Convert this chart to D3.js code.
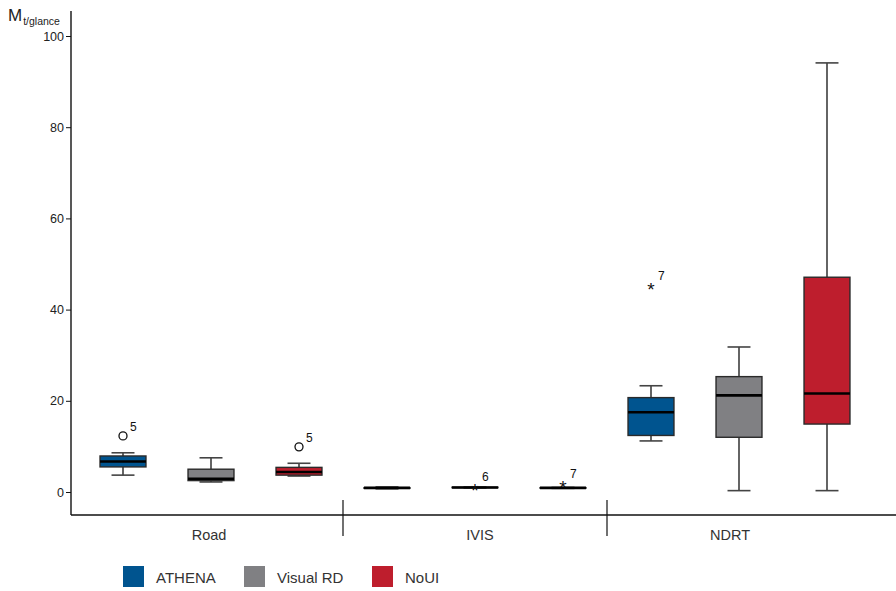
<!DOCTYPE html>
<html>
<head>
<meta charset="utf-8">
<script src="https://cdn.jsdelivr.net/npm/d3@7"></script>
<style>
  body { margin: 0; background: #fff; }
  svg { display: block; }
  text { font-family: "Liberation Sans", Arial, sans-serif; }
</style>
</head>
<body>
<svg id="chart" width="896" height="591"></svg>
<script>
// Tasks on the x axis, conditions within each task
const tasks = ["Road", "IVIS", "NDRT"];
const conditions = ["ATHENA", "Visual RD", "NoUI"];
const conditionColors = ["#00548f", "#808083", "#be1e2d"];

// Box statistics per task, ordered ATHENA, Visual RD, NoUI: [min, q1, median, q3, max]
const roadStats = [
  [3.7, 5.5, 6.7, 7.9, 8.6],
  [2.2, 2.5, 2.9, 5.0, 7.5],
  [3.5, 3.7, 4.4, 5.4, 6.3]
];
const ivisStats = [
  [0.7, 0.8, 0.9, 0.95, 1.1],
  [0.9, 0.95, 1.0, 1.05, 1.1],
  [0.8, 0.85, 0.9, 0.95, 1.0]
];
const ndrtStats = [
  [11.2, 12.4, 17.5, 20.7, 23.3],
  [0.3, 12.0, 21.2, 25.3, 31.8],
  [0.3, 14.9, 21.6, 47.1, 94.1]
];

// Outliers: [task, condition, value, case label, symbol]
const outliers = [
  ["Road", "ATHENA", 12.3, "5", "circle"],
  ["Road", "NoUI", 9.9, "5", "circle"],
  ["IVIS", "Visual RD", 1.4, "6", "star"],
  ["IVIS", "NoUI", 2.0, "7", "star"],
  ["NDRT", "ATHENA", 45.4, "7", "star"]
];

const yTicks = [0, 20, 40, 60, 80, 100];

const svg = d3.select("#chart");

const y = d3.scaleLinear().domain([0, 100]).range([492, 36]);
const slots = tasks.flatMap(t => conditions.map(c => t + "|" + c));
const x = d3.scaleBand().domain(slots).range([79, 871]).paddingInner(0.478).paddingOuter(0.239);
const color = d3.scaleOrdinal().domain(conditions).range(conditionColors);

const axisLeft = 71, axisBottom = 515;

// Y axis
const yAxis = svg.append("g")
  .attr("transform", `translate(${axisLeft},0)`)
  .call(d3.axisLeft(y).tickValues(yTicks).tickSize(5).tickPadding(2));
yAxis.select(".domain").remove();
yAxis.selectAll(".tick line").attr("stroke", "#111");
yAxis.selectAll(".tick text")
  .attr("font-size", 12.5).attr("fill", "#222")
  .attr("font-family", "Liberation Sans, Arial, sans-serif");
svg.append("line")
  .attr("x1", axisLeft).attr("x2", axisLeft).attr("y1", 11).attr("y2", axisBottom)
  .attr("stroke", "#111").attr("stroke-width", 1.4);

// Y axis title: M with subscript
const title = svg.append("text").attr("x", 8).attr("y", 21).attr("fill", "#222")
  .attr("font-family", "Open Sans, sans-serif");
title.append("tspan").attr("font-size", 17).text("M");
title.append("tspan").attr("font-size", 10.5).attr("dy", 4).attr("dx", 1).text("t/glance");

// X axis line and task separators
svg.append("line")
  .attr("x1", axisLeft).attr("x2", 896).attr("y1", axisBottom).attr("y2", axisBottom)
  .attr("stroke", "#111").attr("stroke-width", 1.4);

const step = x.step();
tasks.slice(1).forEach(t => {
  const xs = x(t + "|" + conditions[0]) - (step - x.bandwidth()) / 2;
  svg.append("line")
    .attr("x1", xs).attr("x2", xs).attr("y1", 500).attr("y2", 536)
    .attr("stroke", "#111").attr("stroke-width", 1.2);
});

// Task labels under each group
const labelShift = { Road: -2, IVIS: 5, NDRT: -9 };
svg.append("g").selectAll("text").data(tasks).join("text")
  .attr("x", t => x(t + "|" + conditions[1]) + x.bandwidth() / 2 + labelShift[t])
  .attr("y", 540)
  .attr("text-anchor", "middle")
  .attr("font-size", 14.5).attr("fill", "#333")
  .attr("font-family", "Open Sans, sans-serif")
  .text(t => t);

// Boxes
const statsByTask = { Road: roadStats, IVIS: ivisStats, NDRT: ndrtStats };
const boxes = tasks.flatMap(t => conditions.map((c, i) => {
  const [min, q1, med, q3, max] = statsByTask[t][i];
  return { task: t, cond: c, min, q1, med, q3, max };
}));

const bw = x.bandwidth();
const capW = bw / 2;
const g = svg.append("g");
boxes.forEach(d => {
  const x0 = x(d.task + "|" + d.cond);
  const cx = x0 + bw / 2;
  const bg = g.append("g");
  // whiskers
  bg.append("line").attr("x1", cx).attr("x2", cx).attr("y1", y(d.max)).attr("y2", y(d.q3))
    .attr("stroke", "#111").attr("stroke-width", 1.3);
  bg.append("line").attr("x1", cx).attr("x2", cx).attr("y1", y(d.q1)).attr("y2", y(d.min))
    .attr("stroke", "#111").attr("stroke-width", 1.3);
  [d.max, d.min].forEach(v => {
    bg.append("line").attr("x1", cx - capW / 2).attr("x2", cx + capW / 2)
      .attr("y1", y(v)).attr("y2", y(v))
      .attr("stroke", "#444").attr("stroke-width", 1.6);
  });
  // box
  bg.append("rect")
    .attr("x", x0).attr("width", bw)
    .attr("y", y(d.q3)).attr("height", Math.max(y(d.q1) - y(d.q3), 0.3))
    .attr("fill", color(d.cond))
    .attr("stroke", "#2a2a2a").attr("stroke-width", 1.4);
  // median
  bg.append("line").attr("x1", x0).attr("x2", x0 + bw)
    .attr("y1", y(d.med)).attr("y2", y(d.med))
    .attr("stroke", "#000").attr("stroke-width", 2.6);
});

// Outliers
outliers.forEach(([t, c, v, lab, sym]) => {
  const cx = x(t + "|" + c) + bw / 2;
  const cy = y(v);
  if (sym === "circle") {
    svg.append("circle").attr("cx", cx).attr("cy", cy).attr("r", 4)
      .attr("fill", "#fff").attr("stroke", "#111").attr("stroke-width", 1.3);
  } else {
    svg.append("text").attr("x", cx).attr("y", cy + 11)
      .attr("text-anchor", "middle").attr("font-size", 19).attr("fill", "#111")
      .text("*");
  }
  svg.append("text").attr("x", cx + 7).attr("y", cy - 5)
    .attr("font-size", 12).attr("fill", "#111").text(lab);
});

// Legend
const legendX = [123, 244, 372];
const legend = svg.append("g");
conditions.forEach((c, i) => {
  legend.append("rect").attr("x", legendX[i]).attr("y", 566).attr("width", 21).attr("height", 21)
    .attr("fill", color(c));
  legend.append("text").attr("x", legendX[i] + 33).attr("y", 583)
    .attr("font-size", 15).attr("fill", "#333")
    .attr("font-family", "Open Sans, sans-serif")
    .text(c);
});
</script>
</body>
</html>
